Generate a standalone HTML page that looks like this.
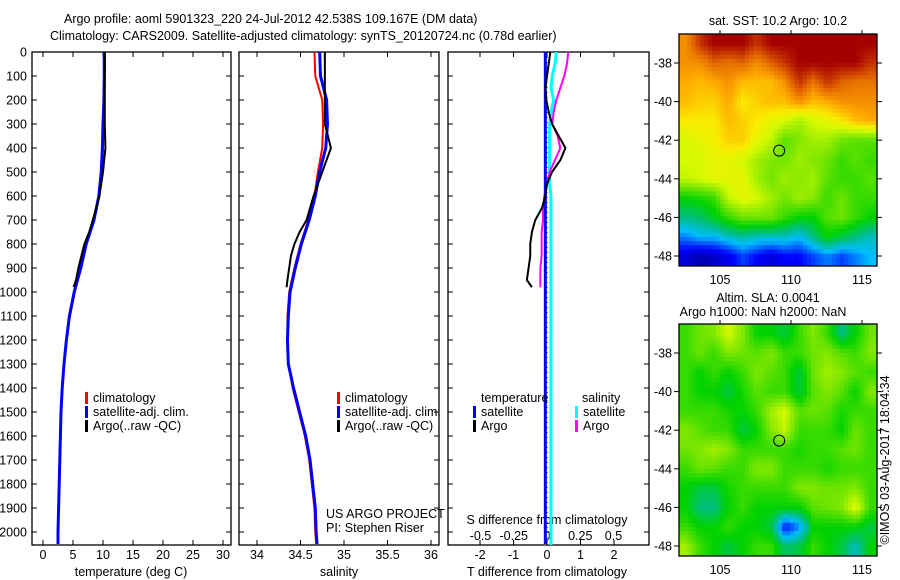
<!DOCTYPE html>
<html><head><meta charset="utf-8"><style>
body{margin:0;background:#fff;}
svg{display:block;font-family:"Liberation Sans",sans-serif;}
text{font-size:12.5px;fill:#000;}
</style></head><body>
<svg id="c" width="900" height="580" xmlns="http://www.w3.org/2000/svg">
<defs>
<clipPath id="clipSla"><rect x="679" y="324" width="198" height="232"/></clipPath>
<clipPath id="clipSst"><rect x="679" y="34" width="198" height="232"/></clipPath>
</defs>
<text x="64" y="23" font-size="13.5">Argo profile: aoml 5901323_220 24-Jul-2012 42.538S 109.167E (DM data)</text>
<text x="50" y="40" font-size="13.5">Climatology: CARS2009. Satellite-adjusted climatology: synTS_20120724.nc (0.78d earlier)</text>
<g id="g"></g>
</svg>
<script>
// ---- data ----
const depthTicks = [0,100,200,300,400,500,600,700,800,900,1000,1100,1200,1300,1400,1500,1600,1700,1800,1900,2000];
const tempTicks = [0,5,10,15,20,25,30];
const salTicks = [34,34.5,35,35.5,36];
const tdiffTicks = [-2,-1,0,1,2];
const sdiffTicks = [-0.5,-0.25,0,0.25,0.5];
const sdiffTickLabels = ["-0.5","-0.25","0","0.25","0.5"];
const climDepth = [0,100,200,300,400,500,600,700,800,900,1000,1100,1200,1300,1400,1500,1600,1700,1800,1900,2000,2050];
const climTemp = [10.3,10.3,10.2,10.1,10.0,9.8,9.4,8.5,7.1,6.3,5.3,4.5,3.9,3.5,3.2,3.0,2.9,2.8,2.7,2.6,2.5,2.5];
const satTemp = [10.2,10.2,10.15,10.0,9.9,9.7,9.3,8.5,7.2,6.3,5.2,4.4,3.9,3.5,3.2,3.0,2.9,2.8,2.7,2.6,2.5,2.5];
const argoDepth = [0,100,200,300,400,500,600,700,750,800,850,900,950,980];
const argoTemp = [10.3,10.3,10.3,10.3,10.4,10.0,9.4,8.3,7.7,6.9,6.4,5.9,5.5,5.1];
const climSal = [34.66,34.67,34.75,34.76,34.75,34.70,34.66,34.59,34.50,34.43,34.37,34.35,34.35,34.36,34.41,34.48,34.55,34.60,34.63,34.66,34.67,34.68];
const satSal = [34.72,34.73,34.80,34.81,34.79,34.72,34.67,34.60,34.51,34.44,34.38,34.36,34.35,34.36,34.42,34.49,34.56,34.61,34.64,34.67,34.68,34.69];
const argoSal = [34.78,34.78,34.78,34.78,34.85,34.75,34.65,34.57,34.49,34.43,34.39,34.37,34.35,34.34];
const diffDepth = [0,50,100,150,200,250,300,350,400,450,500,550,600,650,700,750,800,850,900,950,980];
const argoTdiff = [0.1,0.05,0.0,-0.05,-0.02,0.05,0.15,0.35,0.55,0.4,0.15,0.0,-0.05,-0.15,-0.35,-0.45,-0.5,-0.5,-0.55,-0.6,-0.45];
const satSdiff = [0.07,0.06,0.04,0.03,0.05,0.03,0.02,0.02,0.02,0.02,0.02,0.02,0.03,0.03,0.03,0.03,0.03,0.03,0.03,0.03,0.03];
const argoSdiff = [0.16,0.15,0.13,0.1,0.07,0.05,0.04,0.08,0.1,0.06,0.02,0.0,-0.02,-0.03,-0.03,-0.04,-0.04,-0.04,-0.05,-0.05,-0.05];
const satTdiffDepth = [0,2050];
const satTdiff = [-0.05,-0.05];
const sstGrid = [
[0.85,0.95,1,1,1,0.95,1,1,1,1,1,1,1,1],
[0.85,0.85,0.9,0.88,0.9,0.85,0.9,0.95,1,1,1,1,1,0.95],
[0.82,0.8,0.82,0.85,0.8,0.8,0.8,0.85,0.95,0.88,0.95,0.9,0.88,0.88],
[0.8,0.78,0.78,0.82,0.75,0.78,0.8,0.8,0.85,0.8,0.82,0.85,0.85,0.85],
[0.75,0.75,0.75,0.8,0.78,0.75,0.72,0.7,0.65,0.7,0.72,0.75,0.8,0.82],
[0.7,0.72,0.74,0.78,0.78,0.72,0.68,0.58,0.62,0.65,0.65,0.6,0.58,0.58],
[0.7,0.7,0.72,0.72,0.7,0.65,0.62,0.6,0.65,0.62,0.6,0.55,0.58,0.55],
[0.68,0.7,0.72,0.72,0.72,0.65,0.6,0.65,0.62,0.65,0.58,0.55,0.55,0.58],
[0.5,0.52,0.55,0.68,0.72,0.7,0.65,0.6,0.65,0.62,0.55,0.6,0.55,0.55],
[0.4,0.42,0.48,0.55,0.6,0.6,0.6,0.55,0.5,0.5,0.58,0.6,0.55,0.5],
[0.25,0.3,0.3,0.35,0.38,0.35,0.35,0.35,0.3,0.4,0.5,0.45,0.4,0.35],
[0.1,0.05,0.08,0.12,0.2,0.15,0.1,0.15,0.15,0.2,0.25,0.2,0.25,0.3]];
const slaGrid = [
[0.55,0.6,0.62,0.7,0.62,0.5,0.5,0.45,0.55,0.62,0.55,0.4,0.5,0.6],
[0.55,0.6,0.55,0.62,0.6,0.58,0.62,0.55,0.55,0.6,0.62,0.58,0.55,0.62],
[0.55,0.5,0.55,0.5,0.55,0.62,0.58,0.55,0.45,0.6,0.65,0.62,0.58,0.55],
[0.55,0.5,0.5,0.45,0.52,0.58,0.55,0.55,0.45,0.58,0.62,0.58,0.5,0.62],
[0.55,0.55,0.55,0.52,0.5,0.55,0.65,0.7,0.58,0.6,0.58,0.52,0.55,0.55],
[0.62,0.58,0.55,0.55,0.45,0.5,0.62,0.68,0.55,0.55,0.55,0.5,0.6,0.55],
[0.6,0.62,0.65,0.62,0.55,0.55,0.55,0.55,0.52,0.55,0.55,0.58,0.6,0.55],
[0.55,0.6,0.58,0.55,0.55,0.62,0.62,0.55,0.55,0.55,0.52,0.55,0.55,0.55],
[0.5,0.45,0.45,0.52,0.55,0.55,0.55,0.55,0.62,0.62,0.6,0.6,0.62,0.55],
[0.5,0.4,0.4,0.5,0.55,0.5,0.5,0.5,0.5,0.58,0.6,0.62,0.72,0.55],
[0.55,0.5,0.5,0.55,0.5,0.5,0.45,0.15,0.25,0.5,0.5,0.5,0.5,0.45],
[0.65,0.55,0.5,0.45,0.5,0.55,0.55,0.42,0.45,0.55,0.5,0.45,0.35,0.5]];
const lonTicks = [105,110,115];
const latTicks = [-38,-40,-42,-44,-46,-48];
const argoLon = 109.167, argoLat = -42.538;

// ---- scales ----
const Y0=52, Y1=545, DMAX=2054;
const yD = d => Y0 + d*(Y1-Y0)/DMAX;
const xT = t => 43 + 6*t;
const xS = s => 257 + 87*(s-34);
const xTd = t => 547 + 33.5*t;
const xSd = s => 547 + 133*s;
const xLon = l => 791 + (l-110)*14.2;
const yLat1 = l => 63 + (-38-l)*19.3;
const yLat2 = l => 353 + (-38-l)*19.3;

const NS="http://www.w3.org/2000/svg";
const G=document.getElementById('g');
function mk(tag, attrs, parent){const e=document.createElementNS(NS,tag);for(const k in attrs)e.setAttribute(k,attrs[k]);(parent||G).appendChild(e);return e;}
function txt(x,y,s,anchor,parent){const e=mk('text',{x:x,y:y,'text-anchor':anchor||'start'},parent);e.textContent=s;return e;}
function stepLine(xs,ds,xf,color,w,name){
  let p=[];for(let i=0;i<xs.length;i++){p.push(xf(xs[i])+','+yD(ds[i]));}
  const e=mk('polyline',{points:p.join(' '),fill:'none',stroke:color,'stroke-width':w,'stroke-linejoin':'round'});
  
  
  return e;
}
function panel(x0,x1,name){
  const e=mk('rect',{x:x0,y:Y0,width:x1-x0,height:Y1-Y0,fill:'none',stroke:'#000','stroke-width':1.3});
  
  
  depthTicks.forEach(d=>{mk('line',{x1:x0,x2:x0+5,y1:yD(d),y2:yD(d),stroke:'#000'});mk('line',{x1:x1-5,x2:x1,y1:yD(d),y2:yD(d),stroke:'#000'});});
}
panel(32,231,'temperature-panel');
panel(239,439,'salinity-panel');
panel(448,649,'difference-panel');
depthTicks.forEach(d=>{const t=txt(27,yD(d)+4.5,String(d),'end');
  
  });
function xticks(ticks,labels,xf,y,top){ticks.forEach((v,i)=>{const x=xf(v);
  if(top){mk('line',{x1:x,x2:x,y1:Y0,y2:Y0+5,stroke:'#000'});mk('line',{x1:x,x2:x,y1:Y1-5,y2:Y1,stroke:'#000'});}
  const t=txt(x,y,labels[i],'middle');
  
  });}
xticks(tempTicks,tempTicks.map(String),xT,559,true);
xticks(salTicks,salTicks.map(String),xS,559,true);
xticks(tdiffTicks,tdiffTicks.map(String),xTd,559,true);
xticks(sdiffTicks,sdiffTickLabels,xSd,540,false);
[['temperature (deg C)',131],['salinity',339],['T difference from climatology',547]].forEach(a=>{const t=txt(a[1],576,a[0],'middle');
  
  });
{const t=txt(547,524,'S difference from climatology','middle');

}

// profiles
stepLine(climTemp,climDepth,xT,'#ff0000',2,'temp-climatology-line');
stepLine(satTemp,climDepth,xT,'#0000ff',3,'temp-satellite-line');
stepLine(argoTemp,argoDepth,xT,'#000',2,'temp-argo-line');
stepLine(climSal,climDepth,xS,'#ff0000',2,'sal-climatology-line');
stepLine(satSal,climDepth,xS,'#0000ff',3,'sal-satellite-line');
stepLine(argoSal,argoDepth,xS,'#000',2,'sal-argo-line');
{const z=mk('line',{x1:xTd(0),x2:xTd(0),y1:Y0,y2:Y1,stroke:'#000','stroke-dasharray':'1 4'});

}
stepLine(satSdiff,diffDepth,xSd,'#00ffff',3,'sdiff-satellite-line');
{const e=mk('line',{x1:xSd(satSdiff[satSdiff.length-1]),x2:xSd(satSdiff[satSdiff.length-1]),y1:yD(980),y2:Y1,stroke:'#00ffff','stroke-width':3});

}
stepLine(argoSdiff,diffDepth,xSd,'#ff00ff',2,'sdiff-argo-line');
stepLine(satTdiff,satTdiffDepth,xTd,'#0000ff',3,'tdiff-satellite-line');
stepLine(argoTdiff,diffDepth,xTd,'#000',2,'tdiff-argo-line');

// legends
function leg(x,y,color,label){const r=mk('rect',{x:x,y:y-10,width:3,height:12,fill:color});
  
  
  const t=txt(x+8,y,label);
  
  }
[[85,'temp'],[337,'sal']].forEach(a=>{leg(a[0],402,'#ff0000','climatology');leg(a[0],416,'#0000ff','satellite-adj. clim.');leg(a[0],430,'#000','Argo(..raw -QC)');});
txt(481,402,'temperature');txt(582,402,'salinity');
leg(473,416,'#0000ff','satellite');leg(473,430,'#000','Argo');
leg(575,416,'#00ffff','satellite');leg(575,430,'#ff00ff','Argo');
txt(326,518,'US ARGO PROJECT');txt(326,532,'PI: Stephen Riser');

// maps
function cmap(v){
  const st=[[0,[0,0,140]],[0.15,[0,0,255]],[0.3,[0,190,255]],[0.4,[0,190,130]],[0.5,[0,210,0]],[0.6,[110,228,0]],[0.7,[215,250,0]],[0.75,[250,235,0]],[0.82,[255,170,0]],[0.9,[225,100,0]],[1,[165,0,0]]];
  for(let i=1;i<st.length;i++){if(v<=st[i][0]){const a=st[i-1],b=st[i],f=(v-a[0])/(b[0]-a[0]);
    return 'rgb('+a[1].map((c,k)=>Math.round(c+f*(b[1][k]-c))).join(',')+')';}}
  return 'rgb(165,0,0)';
}
function sample(grid,fr,fc){
  const R=grid.length,C=grid[0].length;
  const r=Math.min(Math.max(fr-0.5,0),R-1), c=Math.min(Math.max(fc-0.5,0),C-1);
  const r0=Math.floor(r),c0=Math.floor(c),r1=Math.min(r0+1,R-1),c1=Math.min(c0+1,C-1);
  const a=r-r0,b=c-c0;
  return grid[r0][c0]*(1-a)*(1-b)+grid[r0][c1]*(1-a)*b+grid[r1][c0]*a*(1-b)+grid[r1][c1]*a*b;
}
function map(grid,y0,name,smooth){
  const g=mk('g',{'clip-path':smooth?'url(#clipSla)':'url(#clipSst)'});
  
  
  const NX=48, NY=56, cw=198/NX, ch=232/NY;
  const R=grid.length,C=grid[0].length;
  for(let i=0;i<NY;i++)for(let j=0;j<NX;j++){
    const v=sample(grid,(i+0.5)*R/NY,(j+0.5)*C/NX);
    const e=mk('rect',{x:(679+j*cw).toFixed(2),y:(y0+i*ch).toFixed(2),width:(cw+0.5).toFixed(2),height:(ch+0.5).toFixed(2),fill:cmap(v)},g);
    
    
  }
  mk('rect',{x:679,y:y0,width:198,height:232,fill:'none',stroke:'#000','stroke-width':1.3});
  const yl = smooth?yLat2:yLat1;
  latTicks.forEach(l=>{const y=yl(l);mk('line',{x1:674,x2:679,y1:y,y2:y,stroke:'#000'});mk('line',{x1:877,x2:882,y1:y,y2:y,stroke:'#000'});
    const t=txt(672,y+4.5,String(l),'end');
    
    });
  lonTicks.forEach(l=>{const x=xLon(l);mk('line',{x1:x,x2:x,y1:y0-4,y2:y0,stroke:'#000'});
    const t=txt(x,y0+250,String(l),'middle');
    
    });
  const m=mk('circle',{cx:xLon(argoLon),cy:yl(argoLat),r:5.5,fill:'none',stroke:'#000','stroke-width':1});
  
  
}
map(sstGrid,34,'sst-map',false);
map(slaGrid,324,'sla-map',true);
txt(778,25,'sat. SST: 10.2 Argo: 10.2','middle');
txt(768,302,'Altim. SLA: 0.0041','middle');
txt(763,316,'Argo h1000: NaN h2000: NaN','middle');
{const t=mk('text',{x:0,y:0,transform:'translate(889,460) rotate(-90)','text-anchor':'middle'});
t.textContent='©IMOS 03-Aug-2017 18:04:34';

}
</script>
</body></html>
